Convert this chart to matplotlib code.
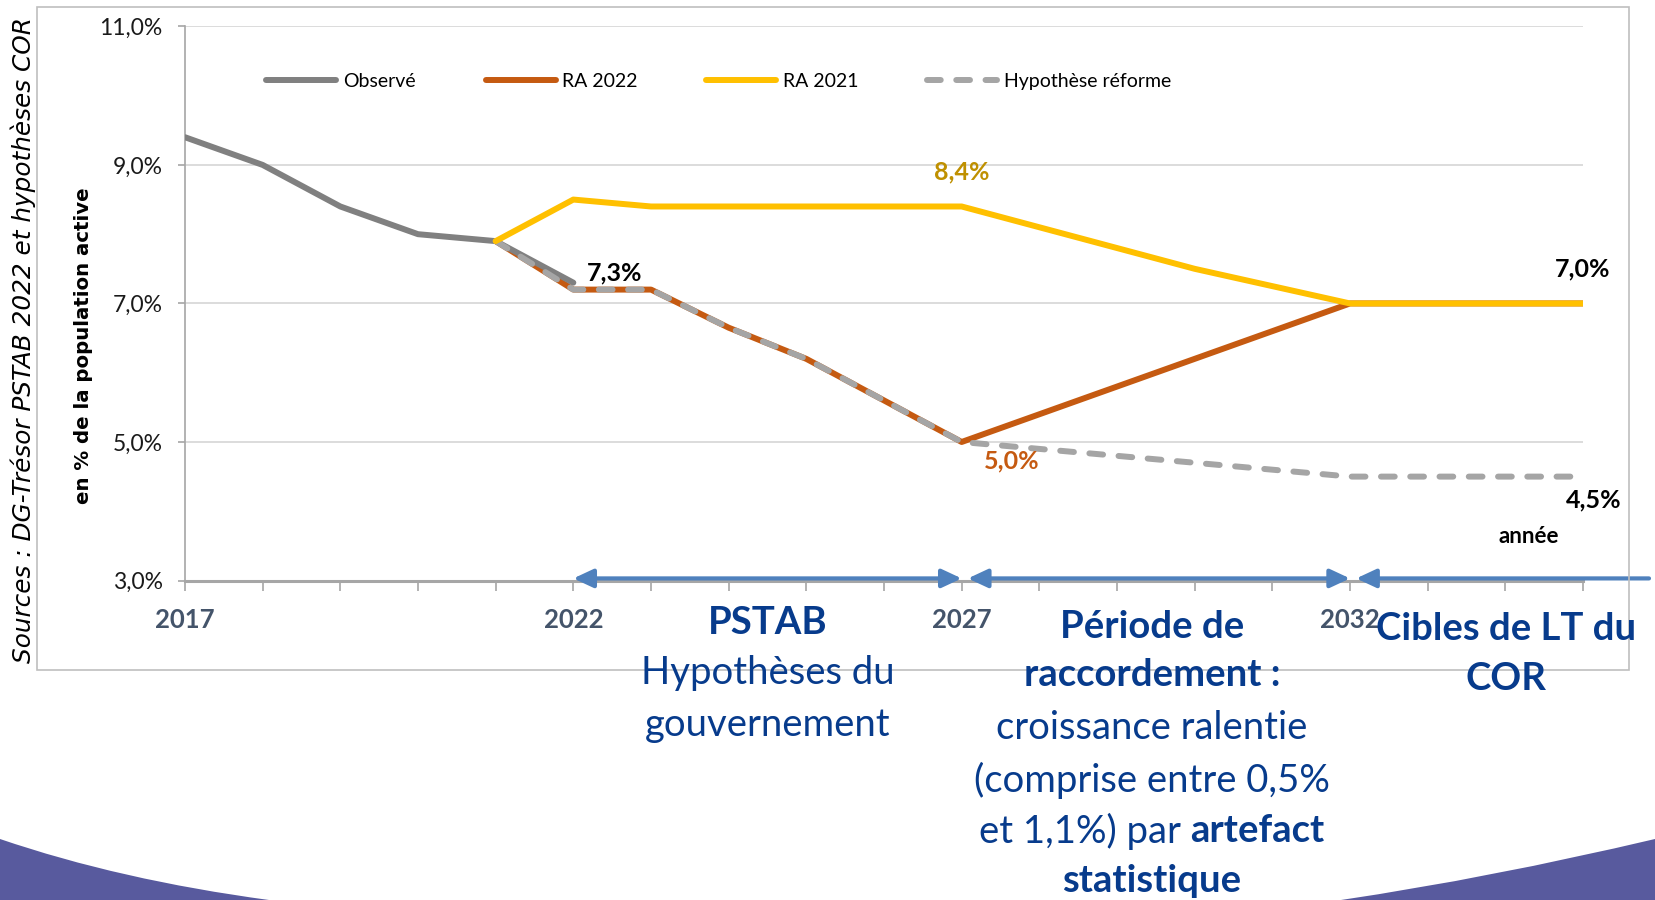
import matplotlib
matplotlib.use('Agg')
import matplotlib.pyplot as plt
from matplotlib.lines import Line2D
from matplotlib.patches import Rectangle, PathPatch
from matplotlib.path import Path

plt.rcParams['font.family'] = ['Lato', 'DejaVu Sans']

# --- data ---
obs_years = [2017, 2018, 2019, 2020, 2021, 2022]
obs_vals = [9.4, 9.0, 8.4, 8.0, 7.9, 7.3]

proj_years = list(range(2021, 2036))
ra2022 = [7.9, 7.2, 7.2, 6.65, 6.2, 5.6, 5.0, 5.4, 5.8, 6.2, 6.6, 7.0, 7.0, 7.0, 7.0]
ra2021 = [7.9, 8.5, 8.4, 8.4, 8.4, 8.4, 8.4, 8.1, 7.8, 7.5, 7.25, 7.0, 7.0, 7.0, 7.0]
reforme = [7.9, 7.2, 7.2, 6.65, 6.2, 5.6, 5.0, 4.9, 4.8, 4.7, 4.6, 4.5, 4.5, 4.5, 4.5]

y_ticks = [3, 5, 7, 9, 11]
x_ticks = list(range(2017, 2036))
x_labelled = [2017, 2022, 2027, 2032]

periods = [(2022, 2027), (2027, 2032), (2032, None)]

series_names = ['Observé', 'RA 2022', 'RA 2021', 'Hypothèse réforme']
C_OBS, C_22, C_21, C_REF = '#808080', '#C55A11', '#FFC000', '#A5A5A5'
NAVY = '#073B8C'
ARROW = '#4F81BD'

W, H = 1655, 900


def fx(px):
    return px / W


def fy(py):
    return 1 - py / H


fig = plt.figure(figsize=(W / 100, H / 100), dpi=100)
ax = fig.add_axes([fx(185), fy(580.5), fx(1583) - fx(185), fy(26.4) - fy(580.5)])

lw = 4.3
DASH = (2.3, 2.6)
ax.plot(proj_years, ra2022, color=C_22, lw=lw, solid_capstyle='round', solid_joinstyle='round', zorder=3)
ax.plot(obs_years, obs_vals, color=C_OBS, lw=lw, solid_capstyle='round', solid_joinstyle='round', zorder=4)
ax.plot(proj_years, reforme, color=C_REF, lw=lw, dashes=DASH, dash_capstyle='round', zorder=5)
ax.plot(proj_years, ra2021, color=C_21, lw=lw, solid_capstyle='round', solid_joinstyle='round', zorder=6)

ax.set_xlim(2017, 2035)
ax.set_ylim(3, 11)
ax.set_yticks(y_ticks)
ax.set_yticklabels([f'{v:.1f}%'.replace('.', ',') for v in y_ticks], fontsize=16.5, color='#1a1a1a')
ax.set_xticks(x_ticks)
ax.set_xticklabels([str(y) if y in x_labelled else '' for y in x_ticks],
                   fontsize=18.5, fontweight='bold', color='#44546A')
ax.tick_params(axis='x', length=7, width=1.2, color='#A6A6A6', pad=13)
ax.tick_params(axis='y', length=5, width=1.2, color='#A6A6A6', pad=11)
ax.yaxis.grid(True, color='#D9D9D9', lw=1.3)
ax.set_axisbelow(True)
for s in ['top', 'right']:
    ax.spines[s].set_visible(False)
ax.spines['left'].set_color('#A6A6A6')
ax.spines['left'].set_linewidth(1.2)
ax.spines['bottom'].set_color('#A6A6A6')
ax.spines['bottom'].set_linewidth(2.2)

# legend: one entry per box, laid out like the Excel legend
handles = [
    Line2D([], [], color=C_OBS, lw=lw, solid_capstyle='round'),
    Line2D([], [], color=C_22, lw=lw, solid_capstyle='round'),
    Line2D([], [], color=C_21, lw=lw, solid_capstyle='round'),
    Line2D([], [], color=C_REF, lw=lw, dashes=DASH, dash_capstyle='round'),
]
leg_x = [0.058, 0.215, 0.373, 0.531]
for i, (h, name) in enumerate(zip(handles, series_names)):
    leg = ax.legend([h], [name], loc='center left', bbox_to_anchor=(leg_x[i], 0.901),
                    frameon=False, fontsize=14, handlelength=3.6, handletextpad=0.35,
                    borderpad=0, borderaxespad=0)
    if i < len(series_names) - 1:
        ax.add_artist(leg)

# data labels
def pct(v):
    return f'{v:.1f}%'.replace('.', ',')

i27 = proj_years.index(2027)
labels = [
    (obs_years[-1], obs_vals[-1], 30, 7, 'black'),
    (2027, ra2021[i27], 0, 25, '#BF9000'),
    (proj_years[-1], ra2021[-1], 0, 25, 'black'),
    (2027, ra2022[i27], 36, -14, C_22),
    (proj_years[-1], reforme[-1], 8, -17, 'black'),
]
for x, v, dx, dy, c in labels:
    ax.annotate(pct(v), xy=(x, v), xytext=(dx, dy), textcoords='offset points',
                ha='center', va='center', fontsize=18, fontweight='bold', color=c,
                annotation_clip=False, zorder=7)

ax.text(0.961, 0.080, 'année', transform=ax.transAxes, ha='center', va='center',
        fontsize=16, fontweight='bold')

# period arrows along the x axis
for a, b in periods:
    end = b if b is not None else 2035.85
    style = '<|-|>' if b is not None else '<|-'
    xa = a + 0.08 if a != periods[0][0] else a
    ax.annotate('', xy=(end, 3.03), xytext=(xa, 3.03), annotation_clip=False,
                arrowprops=dict(arrowstyle=f'{style},head_length=0.6,head_width=0.28',
                                mutation_scale=20, color=ARROW, lw=3,
                                shrinkA=0, shrinkB=0), zorder=8)

# chart area frame
fig.patches.append(Rectangle((fx(37), fy(670)), fx(1629) - fx(37), fy(7) - fy(670),
                             transform=fig.transFigure, fill=False,
                             edgecolor='#BFBFBF', lw=1.2, zorder=0))

# side titles
fig.text(fx(23), fy(340), 'Sources : DG-Trésor PSTAB 2022 et hypothèses COR', rotation=90,
         ha='center', va='center', fontsize=17.8, fontstyle='italic', family='DejaVu Sans')
fig.text(fx(84), fy(346), 'en % de la population active', rotation=90,
         ha='center', va='center', fontsize=14.2, fontweight='bold', family='DejaVu Sans')

# period captions
BIG = 27.5
block1 = [('PSTAB', 'bold', 623), ('Hypothèses du', 'normal', 673), ('gouvernement', 'normal', 725)]
block3 = [('Cibles de LT du', 'bold', 629), ('COR', 'bold', 679)]
block2 = [('Période de', 'bold', 627), ('raccordement :', 'bold', 675.5),
          ('croissance ralentie', 'normal', 728), ('(comprise entre 0,5%', 'normal', 780),
          (None, None, 831), ('statistique', 'bold', 881)]
for xc, block in [(768, block1), (1152, block2), (1506, block3)]:
    for txt, wt, yy in block:
        if txt is None:
            continue
        fig.text(fx(xc), fy(yy), txt, ha='center', va='center', fontsize=BIG,
                 fontweight=wt, color=NAVY)

# mixed-weight line "et 1,1%) par artefact"
t1 = fig.text(0, fy(831), 'et 1,1%) par', ha='left', va='center', fontsize=BIG, color=NAVY)
t2 = fig.text(0, fy(831), 'artefact', ha='left', va='center', fontsize=BIG,
              fontweight='bold', color=NAVY)
fig.canvas.draw()
r = fig.canvas.get_renderer()
w1 = t1.get_window_extent(r).width
w2 = t2.get_window_extent(r).width
gap = BIG * 100 / 72 * 0.24
start = 1152 - (w1 + gap + w2) / 2
t1.set_x(fx(start))
t2.set_x(fx(start + w1 + gap))

# bottom slide decoration
left = Path([(fx(0), fy(839)), (fx(120), fy(880)), (fx(269), fy(900)), (fx(0), fy(900)), (fx(0), fy(839))],
            [Path.MOVETO, Path.CURVE3, Path.CURVE3, Path.LINETO, Path.CLOSEPOLY])
right = Path([(fx(1341), fy(900)), (fx(1490), fy(878)), (fx(1655), fy(839)), (fx(1655), fy(900)), (fx(1341), fy(900))],
             [Path.MOVETO, Path.CURVE3, Path.CURVE3, Path.LINETO, Path.CLOSEPOLY])
for p in (left, right):
    fig.patches.append(PathPatch(p, transform=fig.transFigure, facecolor='#585A9E',
                                 edgecolor='none', zorder=0))

fig.savefig('out.png', dpi=100)
